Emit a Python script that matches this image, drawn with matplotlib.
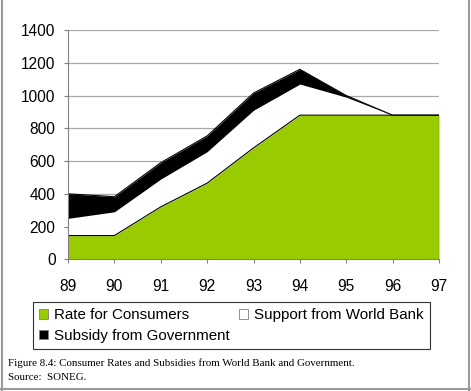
import numpy as np
import matplotlib.pyplot as plt
from matplotlib.lines import Line2D
from matplotlib.patches import Patch

# data (stacked areas)
years = [89, 90, 91, 92, 93, 94, 95, 96, 97]
rate_consumers = [145, 145, 320, 465, 680, 880, 880, 880, 880]
support_world_bank = [105, 145, 170, 192, 230, 190, 110, 0, 0]
subsidy_government = [150, 92, 100, 96, 105, 90, 10, 0, 0]

labels = ['Rate for Consumers', 'Support from World Bank', 'Subsidy from Government']
colors = ['#99cc00', '#ffffff', '#000000']

plt.rcParams['font.family'] = ['Liberation Sans', 'DejaVu Sans']

fig = plt.figure(figsize=(4.71, 3.91), dpi=100)
ax = fig.add_axes([68 / 471, 1 - 259.3 / 391, (439 - 68) / 471, (259.3 - 30) / 391])

x = np.array(years)
lvl1 = np.array(rate_consumers)
lvl2 = lvl1 + np.array(support_world_bank)
lvl3 = lvl2 + np.array(subsidy_government)

ax.fill_between(x, 0, lvl1, color=colors[0], linewidth=0, zorder=2)
ax.fill_between(x, lvl1, lvl2, color=colors[1], linewidth=0, zorder=2)
ax.fill_between(x, lvl2, lvl3, color=colors[2], linewidth=0, zorder=2)
ax.plot(x, lvl1, color='black', linewidth=0.8, zorder=3)
ax.plot(x, lvl3, color='black', linewidth=0.8, zorder=3)
ax.plot([x[-1], x[-1]], [0, lvl1[-1]], color='black', linewidth=0.8, zorder=3)

ax.set_xlim(89, 97)
ax.set_ylim(0, 1400)
ax.set_xticks(years)
ax.set_xticklabels([str(y) for y in years])
ax.set_yticks(np.arange(0, 1401, 200))
ax.set_axisbelow(True)
ax.yaxis.grid(True, color='#a8a8a8', linewidth=0.9)
ax.spines['top'].set_visible(False)
ax.spines['right'].set_visible(False)
ax.spines['left'].set_color('#808080')
ax.spines['bottom'].set_color('#808080')
ax.spines['left'].set_zorder(4)
ax.tick_params(axis='y', length=3, color='#808080', pad=6, labelsize=11.2)
ax.tick_params(axis='x', length=3, color='#808080', pad=11.5, labelsize=11.2)

# legend in the order of the reference (rows: A B / C)
handles = [Patch(facecolor=colors[0], edgecolor='#808080', linewidth=0.6),
           Patch(facecolor=colors[2], edgecolor='#808080', linewidth=0.6),
           Patch(facecolor=colors[1], edgecolor='#808080', linewidth=0.6)]
leg_labels = [labels[0], labels[2], labels[1]]
leg = fig.legend(handles, leg_labels, ncol=2, loc='upper left',
                 bbox_to_anchor=(33 / 471, 1 - 302 / 391),
                 fontsize=10.9, frameon=True, fancybox=False,
                 edgecolor='black', handlelength=0.6, handleheight=0.6,
                 handletextpad=0.4, borderaxespad=0, borderpad=0.4,
                 labelspacing=0.45, columnspacing=0.6)
leg.get_frame().set_linewidth(0.8)

fig.text(8 / 471, 1 - 366 / 391,
         'Figure 8.4: Consumer Rates and Subsidies from World Bank and Government.',
         family=['Liberation Serif', 'DejaVu Serif'], fontsize=7.9, va='baseline')
fig.text(8 / 471, 1 - 380 / 391, 'Source:  SONEG.',
         family=['Liberation Serif', 'DejaVu Serif'], fontsize=7.9, va='baseline')

# page border around the figure
border = '#9a9a9a'
fig.add_artist(Line2D([2 / 471, 2 / 471], [0, 1], color=border, linewidth=1.5))
fig.add_artist(Line2D([468.5 / 471, 468.5 / 471], [0, 1], color=border, linewidth=1.5))
fig.add_artist(Line2D([0, 1], [2 / 391, 2 / 391], color=border, linewidth=1.5))

fig.savefig('out.png', dpi=100)
